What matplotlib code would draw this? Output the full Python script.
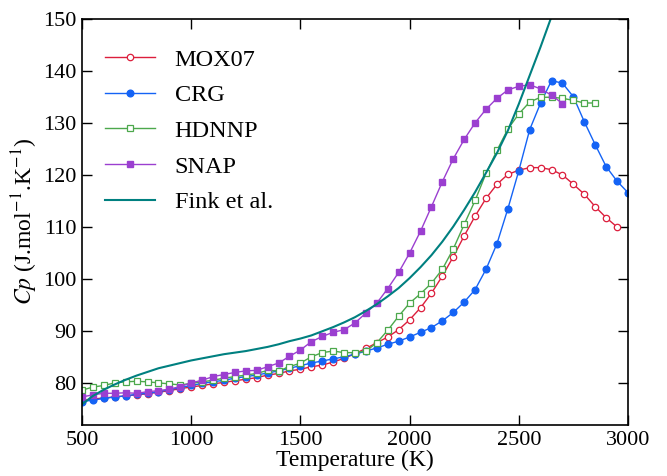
import numpy as np
import matplotlib
matplotlib.use("Agg")
import matplotlib.pyplot as plt

plt.rcParams['font.family'] = ['Liberation Serif', 'DejaVu Serif']
plt.rcParams['mathtext.fontset'] = 'stix'

# temperatures (K)
T_mox = list(range(500, 2951, 50))
T_crg = list(range(500, 3001, 50))
T_hdnnp = list(range(500, 2851, 50))
T_snap = list(range(500, 2701, 50))
T_fink = list(range(500, 2701, 50))

cp_mox = [76.7, 77.0, 77.2, 77.4, 77.6, 77.8, 78.0, 78.3, 78.6, 79.0,
          79.3, 79.6, 79.9, 80.2, 80.5, 80.8, 81.1, 81.6, 81.9, 82.4,
          82.7, 83.2, 83.5, 84.1, 84.8, 85.7, 86.7, 87.8, 88.9, 90.3,
          92.2, 94.5, 97.3, 100.6, 104.3, 108.3, 112.1, 115.5, 118.2, 120.1,
          120.9, 121.4, 121.4, 121.0, 120.0, 118.2, 116.3, 113.9, 111.8, 110.0]

cp_crg = [76.5, 76.8, 77.1, 77.4, 77.6, 77.9, 78.1, 78.4, 78.8, 79.2,
          79.6, 80.0, 80.3, 80.6, 81.0, 81.3, 81.6, 82.0, 82.4, 82.9,
          83.4, 83.9, 84.3, 84.7, 85.1, 85.6, 86.2, 86.8, 87.5, 88.1,
          88.9, 89.8, 90.7, 92.0, 93.6, 95.6, 98.0, 101.9, 106.8, 113.5,
          120.8, 128.7, 133.8, 138.1, 137.6, 135.0, 130.2, 125.8, 121.6, 118.8,
          116.6]

cp_hdnnp = [78.7, 79.3, 79.6, 80.1, 80.3, 80.4, 80.3, 80.1, 79.9, 79.7,
            80.0, 80.3, 80.6, 81.0, 81.3, 81.6, 81.9, 82.5, 82.4, 83.2,
            83.9, 85.1, 85.9, 86.2, 85.9, 85.9, 86.2, 87.8, 90.2, 92.9,
            95.4, 97.2, 99.2, 101.9, 105.8, 110.5, 115.1, 120.3, 124.7, 128.8,
            131.7, 134.0, 134.9, 134.9, 134.7, 134.3, 133.8, 133.8]

cp_snap = [77.4, 77.8, 78.1, 78.1, 78.2, 78.1, 78.4, 78.6, 78.9, 79.4,
           80.1, 80.6, 81.3, 81.7, 82.1, 82.4, 82.5, 83.2, 83.9, 85.2,
           86.4, 88.0, 89.0, 89.8, 90.3, 91.6, 93.5, 95.4, 98.2, 101.3,
           105.0, 109.2, 113.9, 118.7, 123.1, 126.8, 130.0, 132.6, 134.7, 136.3,
           137.0, 137.3, 136.5, 135.3, 133.7]

cp_fink = [76.0, 77.6, 78.8, 79.8, 80.7, 81.5, 82.2, 82.9, 83.4, 83.9,
           84.4, 84.8, 85.2, 85.6, 85.9, 86.2, 86.6, 87.0, 87.5, 88.1,
           88.6, 89.2, 90.0, 90.8, 91.7, 92.7, 93.9, 95.2, 96.7, 98.3,
           100.2, 102.3, 104.6, 107.2, 110.1, 113.3, 116.7, 120.4, 124.2, 128.5,
           133.6, 139.1, 144.6, 150.4, 156.5]

fig = plt.figure(figsize=(6.67, 4.76), dpi=100)
ax = fig.add_axes([0.123, 0.107, 0.8185, 0.854])

ax.plot(T_mox, cp_mox, color='#dc1e3c', lw=1.0, marker='o', ms=4.6,
        mfc='white', mec='#dc1e3c', mew=0.9, label='MOX07')
ax.plot(T_crg, cp_crg, color='#1463f5', lw=1.0, marker='o', ms=4.8,
        label='CRG')
ax.plot(T_hdnnp, cp_hdnnp, color='#4ca84c', lw=1.0, marker='s', ms=4.8,
        mfc='white', mec='#4ca84c', mew=0.9, label='HDNNP')
ax.plot(T_snap, cp_snap, color='#9b3fd0', lw=1.0, marker='s', ms=4.8,
        label='SNAP')
ax.plot(T_fink, cp_fink, color='#008080', lw=1.5, label='Fink et al.')

ax.set_xlim(500, 3000)
ax.set_ylim(72, 150)
ax.set_xticks([500, 1000, 1500, 2000, 2500, 3000])
ax.set_yticks([80, 90, 100, 110, 120, 130, 140, 150])
ax.tick_params(direction='in', top=True, right=True, length=7, width=1,
               labelsize=16, pad=4)
for s in ax.spines.values():
    s.set_linewidth(1.2)

ax.set_xlabel('Temperature (K)', fontsize=17, labelpad=0)
ax.set_ylabel('$Cp$ (J.mol$^{-1}$.K$^{-1}$)', fontsize=17, labelpad=2)

ax.legend(loc='upper left', bbox_to_anchor=(0.027, 0.947), borderaxespad=0,
          frameon=False, fontsize=17.5, handlelength=2.05, borderpad=0.35,
          labelspacing=0.56, handletextpad=0.8)

fig.savefig('out.png', dpi=100)
